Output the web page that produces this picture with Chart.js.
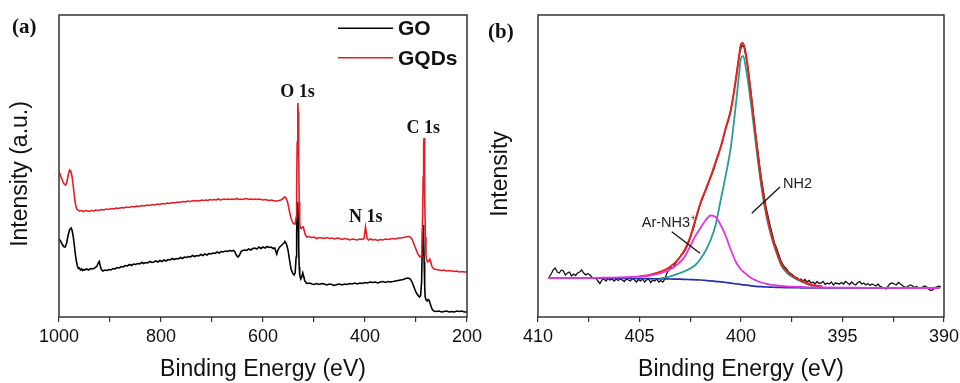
<!DOCTYPE html>
<html><head><meta charset="utf-8">
<script src="https://cdn.jsdelivr.net/npm/chart.js@4.4.1/dist/chart.umd.min.js"></script>
<style>
html,body{margin:0;padding:0;background:#fff;}
#wrap{position:relative;width:960px;height:383px;overflow:hidden;background:#fff;}
#ca{position:absolute;left:0;top:0;}
#cb{position:absolute;left:480px;top:0;}
</style></head><body>
<div id="wrap"><canvas id="ca" width="490" height="383"></canvas><canvas id="cb" width="480" height="383"></canvas></div>
<script>
// ---------- Panel (a): XPS survey spectra [binding energy eV, intensity a.u.] ----------
const goSurvey = [[1000,78],[997,76],[994,73],[991,70.5],[988,70],[985,74],[982,82],[979,87.5],[976,89],[974,86],[972,80],[970,72],[968,63],[966,56],[964,51],[962,48.5],[960,49],[958,47],[956,48],[954,46.5],[952,47.5],[950,47],[946,48],[942,47],[938,48.5],[934,48],[930,49],[926,50.5],[923,54],[921,55.5],[919,51],[917,47.5],[914,46],[910,47],[906,46.5],[902,47.5],[898,47],[894,48.5],[890,48],[886,49.5],[882,49],[878,50.5],[874,50],[870,51.5],[866,51],[862,52.5],[858,51.5],[854,53],[850,52.5],[846,53.5],[842,53],[838,54.5],[834,53.5],[830,54.5],[826,54],[822,55.5],[818,54.5],[814,55],[810,56],[806,55],[802,56.5],[798,55.5],[794,57],[790,56],[786,57.5],[782,57],[778,58.5],[774,57.5],[770,58.5],[766,58],[762,59.5],[758,58.5],[754,60],[750,59.5],[746,60.5],[742,60],[738,61.5],[734,60.5],[730,61.5],[726,61],[722,62.5],[718,61.5],[714,63],[710,62],[706,63.5],[702,63],[698,64],[694,63.5],[690,65],[686,64],[682,65.5],[678,65],[674,66],[670,65.5],[666,66.5],[662,66],[658,66.5],[655,65],[652,61.5],[649,60],[646,62],[643,65.5],[640,66.5],[636,67],[632,66.5],[628,68],[624,67],[620,68.5],[616,69],[612,68],[608,70],[604,68.5],[600,70],[596,69],[592,70.5],[588,69.5],[584,70],[580,68.5],[577,69],[575,66],[573,63],[571,66.5],[568,69.5],[565,71],[562,72.5],[559,74],[557,75.5],[554,73],[551,67],[548,57],[545,48],[542,44],[539,42],[537,44],[535,60],[534,85],[533,108],[532,115],[531,100],[530,70],[529,50],[528,42],[526,38],[524,40],[522,44],[520,40],[518,36],[515,34],[512,33.5],[508,34],[504,33],[500,32.5],[495,33.5],[490,32.5],[485,33.5],[480,33],[475,32],[470,33],[465,32.5],[460,31.5],[455,32.5],[450,33],[445,32],[440,33],[435,32.5],[430,33.5],[425,33],[420,34],[415,33],[410,34],[405,33.5],[400,34.5],[395,34],[390,35],[385,34.5],[380,35],[375,34],[370,35],[365,35.5],[360,34.5],[355,35.5],[350,35],[345,35.5],[340,36],[335,36.5],[330,37],[325,37.5],[320,38.5],[316,39],[313,38.5],[310,37],[307,34],[304,30],[301,26],[298,23],[295,21],[293,20],[291,21.5],[289,35],[288,62],[287,85],[286,92],[285,80],[284,55],[283,32],[282,20],[280,17],[278,16],[276,17.5],[274,16.5],[272,13],[270,10],[268,7.5],[265,6],[260,5.5],[255,6],[250,5],[245,5.5],[240,6],[235,5],[230,5.5],[225,5],[220,6],[215,5.5],[210,6],[205,5],[200,5]];

const gqdSurvey = [[1000,145],[998,143],[996,140],[993,136],[990,133],[987,132],[985,134],[983,139],[981,144],[979,147],[977,146],[975,142],[973,135],[971,126],[969,117],[967,111],[965,108],[963,107],[960,106],[956,106.5],[952,105.5],[948,106.5],[944,106],[940,105.5],[936,106.5],[932,106],[928,107],[924,106.5],[920,107],[916,107.5],[912,107],[908,108],[904,107.5],[900,108],[896,108.5],[892,108],[888,109],[884,108.5],[880,109],[876,109.5],[872,109],[868,110],[864,109.5],[860,110],[856,110.5],[852,110],[848,111],[844,110.5],[840,111],[836,111.5],[832,111],[828,112],[824,111.5],[820,112],[816,112.5],[812,112],[808,113],[804,112.5],[800,113],[796,113.5],[792,113],[788,114],[784,113.5],[780,114],[776,114.5],[772,114],[768,115],[764,114.5],[760,115],[756,115.5],[752,115],[748,116],[744,115.5],[740,116],[736,116.5],[732,116],[728,116.5],[724,116],[720,117],[716,116.5],[712,117],[708,116.5],[704,117.5],[700,117],[696,117.5],[692,117],[688,118],[684,117],[680,117.5],[676,118],[672,117.5],[668,118],[664,117.5],[660,118],[656,117.5],[652,118.5],[648,117.5],[644,118],[640,117.5],[636,118],[632,118.5],[628,117.5],[624,118],[620,117.5],[616,118],[612,117.5],[608,118],[604,117.5],[600,117],[596,117.5],[592,117],[588,116.5],[584,117],[580,116.5],[576,116],[572,116],[568,116.5],[565,117],[562,118],[559,119.5],[557,120],[555,119],[553,117],[551,113],[549,108],[547,103],[545,99],[543,96],[541,94],[539,93],[537,93],[535,100],[534,130],[533,175],[532,205],[531.5,214],[531,205],[530,160],[529,115],[528,94],[527,89],[525,88.5],[523,90],[521,90],[519,86],[517,82],[514,80],[510,80.5],[505,79.5],[500,80],[495,78.5],[490,79.5],[485,79],[480,78.5],[475,79.5],[470,78.5],[465,79],[460,78],[455,79],[450,78.5],[445,77.5],[440,78.5],[435,78],[430,77],[425,78],[420,77.5],[415,77],[410,78],[405,77.5],[402,78.5],[400.5,84],[399,90],[397.5,85],[396,78.5],[393,77],[389,78],[385,77],[380,77.5],[375,76.5],[370,77.5],[365,77],[360,78],[355,77.5],[350,78],[345,78.5],[340,78],[335,79],[330,79],[325,79.5],[320,80],[316,80.5],[313,80.5],[310,79.5],[307,77],[304,73],[301,69],[298,65],[295,62],[292,60],[290,61],[288.5,70],[287,100],[286,140],[285,172],[284.3,179],[283.5,165],[282.5,120],[281.5,80],[280.5,62],[279,57],[277,55],[275,56],[273,58],[271,55],[269,51],[267,49],[264,48],[260,47.5],[255,47],[250,46.5],[245,47],[240,46],[235,46.5],[230,46],[225,45.5],[220,46],[215,45],[210,45.5],[205,45],[200,45]];

const surveyTickLabels = [1000, 800, 600, 400, 200];
const surveyPeakNames  = ['O 1s', 'N 1s', 'C 1s'];
const surveyPeakEnergy = [532.4, 398.4, 285.6];
const surveyPeakLabelY = [220.3, 95.3, 183.7];

// ---------- Panel (b): N 1s high-resolution spectrum ----------
const n1sRawStart = 409.45;
const n1sRawStep = 0.1;
const n1sRawCounts = [40,43,47,49,45,44,47,46,42,44,45,41,43,41.5,44,45,47,44,42,43.5,42,40,38.5,39,36,33.5,37,38,36,38.5,37,38,36,38,36.5,38,37,35.5,38,37,36,38.5,37,35,37.5,36,38,35,37,38,34.5,37,36,38,35,36.5,35,38,44,47,50,49,53,56,58.5,62,64,67,71,76,83,88,96,103,110,116,121,126,131,137,142,147,154,160,167,173,181,189,195,203,213,225,238,253,266,272,270,260,248,232,214,196,178,163,146,133,120,108,99,90,82,74,69,63,57,53,50,48,45,43.5,42,40,39.5,37,38,36,37.5,35,36.5,34,35,33,35.5,33.5,34,35.5,32.5,34,33,35,32,34,33.5,33,34.5,33,35.5,34,32.5,35,33,32,34.5,35.5,33,34,32,33.5,31.5,33,32,31,33,30.5,30,29,28,31,33.5,34,33,32,34.5,33,31.5,30,29.5,31,32,31,29.5,30.5,29,28.5,30,31,30,28,26.5,27,29.5,30,31,30];

const n1sFitEnergy = [409.5,409,408,407,406,405,404.5,404,403.5,403,402.75,402.5,402.25,402,401.75,401.5,401.25,401,400.75,400.5,400.25,400.1,400,399.9,399.75,399.5,399.25,399,398.75,398.5,398.25,398,397.75,397.5,397,396.5,396,395,394,393,392,391,390.2];
const n1sBackground = [39,39,38.9,38.8,38.6,38.4,38.3,38.2,38.0,37.8,37.6,37.4,37.2,37.0,36.6,36.2,35.7,35.1,34.5,33.9,33.2,32.8,32.5,32.2,31.8,31.2,30.7,30.3,30.0,29.8,29.6,29.5,29.4,29.3,29.2,29.1,29.1,29.0,29,29,29,29,29];
const n1sArNH3 = [39,39,39,39.2,39.6,40.5,41.5,43.5,47.5,55,61,71,81,89,96.5,101.5,100,92,81,67,55,50,47.5,45.5,43,39,36.5,34.5,33.2,32.2,31.5,31,30.6,30.3,30,29.7,29.5,29.3,29.2,29.1,29,29,29];

const nh2Energy = [404,403.5,403,402.75,402.5,402.25,402,401.75,401.5,401.25,401,400.75,400.5,400.25,400.1,400,399.9,399.75,399.5,399.25,399,398.75,398.5,398.25,398,397.75,397.5,397,396.5,396];
const nh2Fit = [38.6,40.5,44,46,48.5,52,58,66,77,92,117,142,170,213,242,259,261,248,212,170,131,101,80,64,51,44.5,40.5,35,31.5,30.2];

const envelopeEnergy = [405,404.5,404,403.5,403,402.75,402.5,402.25,402,401.75,401.5,401.25,401,400.75,400.5,400.25,400.1,400,399.9,399.75,399.5,399.25,399,398.75,398.5,398.25,398,397.75,397.5,397,396.5,396];
const envelopeFit = [40.5,42,45,50,60,68,80,97,114,127,140,155,170,189,207,238,260,273,274,262,221,176,135,104,82.5,66,52.5,46,41.5,36,32,30.5];

const n1sTickLabels = [410, 405, 400, 395, 390];

// ---------- helpers ----------
const SANS = '"Liberation Sans", Arial, Helvetica, sans-serif';
const SERIF = '"Liberation Serif", "Times New Roman", Times, serif';
const fromPairs = arr => arr.map(p => ({x: p[0], y: p[1]}));
const fromXY = (xs, ys) => xs.map((x, i) => ({x, y: ys[i]}));
const rawPoints = n1sRawCounts.map((v, i) => ({x: +(n1sRawStart - i * n1sRawStep).toFixed(2), y: v}));

const framePlugin = {
  id: 'frame',
  afterDraw(chart) {
    const {ctx, chartArea: a} = chart;
    ctx.save();
    ctx.strokeStyle = '#333';
    ctx.lineWidth = 1.5;
    ctx.strokeRect(a.left, a.top, a.right - a.left, a.bottom - a.top);
    ctx.restore();
  }
};

function drawTitles(chart, yTitle, panelLabel, labelX, labelY) {
  const {ctx, chartArea: a} = chart;
  ctx.save();
  ctx.fillStyle = '#111';
  ctx.font = '23px ' + SANS;
  ctx.textAlign = 'center';
  ctx.textBaseline = 'alphabetic';
  ctx.fillText('Binding Energy (eV)', (a.left + a.right) / 2, 376);
  ctx.save();
  ctx.translate(27, 174);
  ctx.rotate(-Math.PI / 2);
  ctx.fillText(yTitle, 0, 0);
  ctx.restore();
  ctx.textAlign = 'left';
  ctx.font = 'bold 21px ' + SERIF;
  ctx.fillText(panelLabel, labelX, labelY);
  ctx.restore();
}

function tickFont() { return {family: SANS, size: 18}; }
function fitX(s) { s.height = 66; s.paddingLeft = 0; s.paddingRight = 0; }

// ---------- chart (a) ----------
const textPluginA = {
  id: 'textA',
  afterDraw(chart) {
    const {ctx} = chart;
    const xs = chart.scales.x, ys = chart.scales.y;
    drawTitles(chart, 'Intensity (a.u.)', '(a)', 12, 33);
    ctx.save();
    ctx.fillStyle = '#111';
    ctx.font = 'bold 18px ' + SERIF;
    ctx.textAlign = 'center';
    ctx.textBaseline = 'alphabetic';
    surveyPeakNames.forEach((n, i) => {
      ctx.fillText(n, xs.getPixelForValue(surveyPeakEnergy[i]), ys.getPixelForValue(surveyPeakLabelY[i]));
    });
    // legend
    ctx.font = 'bold 21px ' + SANS;
    ctx.textAlign = 'left';
    ctx.textBaseline = 'middle';
    chart.data.datasets.forEach((d, i) => {
      const y = 28.3 + i * 29.5;
      ctx.strokeStyle = d.borderColor;
      ctx.lineWidth = 1.5;
      ctx.beginPath(); ctx.moveTo(338, y); ctx.lineTo(393, y); ctx.stroke();
      ctx.fillStyle = '#111';
      ctx.fillText(d.label, 398, y + 1);
    });
    ctx.restore();
  }
};

new Chart(document.getElementById('ca'), {
  type: 'line',
  data: {
    datasets: [
      {label: 'GO', data: fromPairs(goSurvey), borderColor: '#000000', borderWidth: 1.6, pointRadius: 0, tension: 0, order: 2},
      {label: 'GQDs', data: fromPairs(gqdSurvey), borderColor: '#e31e24', borderWidth: 1.6, pointRadius: 0, tension: 0, order: 1}
    ]
  },
  options: {
    responsive: false, animation: false, devicePixelRatio: 1,
    layout: {padding: {left: 59, right: 23, top: 15, bottom: 0}},
    plugins: {legend: {display: false}, tooltip: {enabled: false}},
    scales: {
      x: {
        type: 'linear', reverse: true, min: 200, max: 1000,
        afterFit: fitX,
        border: {display: false},
        grid: {display: true, drawOnChartArea: false, drawTicks: true, tickLength: 5, color: '#333', lineWidth: 1.2},
        ticks: {stepSize: 100, autoSkip: false, maxRotation: 0, minRotation: 0, padding: 4, color: '#111', font: tickFont(),
          callback: v => surveyTickLabels.some(t => Math.abs(t - v) < 1e-6) ? String(v) : ''}
      },
      y: {display: false, min: 0, max: 302}
    }
  },
  plugins: [framePlugin, textPluginA]
});

// ---------- chart (b) ----------
const textPluginB = {
  id: 'textB',
  afterDraw(chart) {
    const {ctx} = chart;
    const xs = chart.scales.x, ys = chart.scales.y;
    const P = (e, v) => [xs.getPixelForValue(e), ys.getPixelForValue(v)];
    drawTitles(chart, 'Intensity', '(b)', 8, 37.5);
    ctx.save();
    ctx.strokeStyle = '#111';
    ctx.lineWidth = 1.3;
    let a = P(398.08, 130), b = P(399.47, 103.7);
    ctx.beginPath(); ctx.moveTo(a[0], a[1]); ctx.lineTo(b[0], b[1]); ctx.stroke();
    a = P(403.41, 85.3); b = P(402.02, 63.7);
    ctx.beginPath(); ctx.moveTo(a[0], a[1]); ctx.lineTo(b[0], b[1]); ctx.stroke();
    ctx.fillStyle = '#222';
    ctx.font = '14.5px ' + SANS;
    ctx.textAlign = 'left';
    ctx.textBaseline = 'alphabetic';
    let t = P(397.93, 128.7);
    ctx.fillText('NH2', t[0], t[1]);
    t = P(404.89, 90.3);
    ctx.fillText('Ar-NH3', t[0], t[1]);
    const w = ctx.measureText('Ar-NH3').width;
    ctx.font = '9px ' + SANS;
    ctx.fillText('+', t[0] + w + 0.5, t[1] - 6);
    ctx.restore();
  }
};

new Chart(document.getElementById('cb'), {
  type: 'line',
  data: {
    datasets: [
      {label: 'Raw', data: rawPoints, borderColor: '#111111', borderWidth: 1.3, pointRadius: 0, tension: 0, order: 5},
      {label: 'Background', data: fromXY(n1sFitEnergy, n1sBackground), borderColor: '#2430a8', borderWidth: 1.7, pointRadius: 0, cubicInterpolationMode: 'monotone', order: 4},
      {label: 'NH2', data: fromXY(nh2Energy, nh2Fit), borderColor: '#2a9d90', borderWidth: 1.8, pointRadius: 0, cubicInterpolationMode: 'monotone', order: 3},
      {label: 'Envelope', data: fromXY(envelopeEnergy, envelopeFit), borderColor: '#e3241f', borderWidth: 2, pointRadius: 0, cubicInterpolationMode: 'monotone', order: 2},
      {label: 'Ar-NH3+', data: fromXY(n1sFitEnergy, n1sArNH3), borderColor: '#e035e0', borderWidth: 1.8, pointRadius: 0, cubicInterpolationMode: 'monotone', order: 1}
    ]
  },
  options: {
    responsive: false, animation: false, devicePixelRatio: 1,
    layout: {padding: {left: 58, right: 16, top: 15, bottom: 0}},
    plugins: {legend: {display: false}, tooltip: {enabled: false}},
    scales: {
      x: {
        type: 'linear', reverse: true, min: 390, max: 410,
        afterFit: fitX,
        border: {display: false},
        grid: {display: true, drawOnChartArea: false, drawTicks: true, tickLength: 5, color: '#333', lineWidth: 1.2},
        ticks: {stepSize: 2.5, autoSkip: false, maxRotation: 0, minRotation: 0, padding: 4, color: '#111', font: tickFont(),
          callback: v => n1sTickLabels.some(t => Math.abs(t - v) < 1e-6) ? String(v) : ''}
      },
      y: {display: false, min: 0, max: 302}
    }
  },
  plugins: [framePlugin, textPluginB]
});
</script>
</body></html>
